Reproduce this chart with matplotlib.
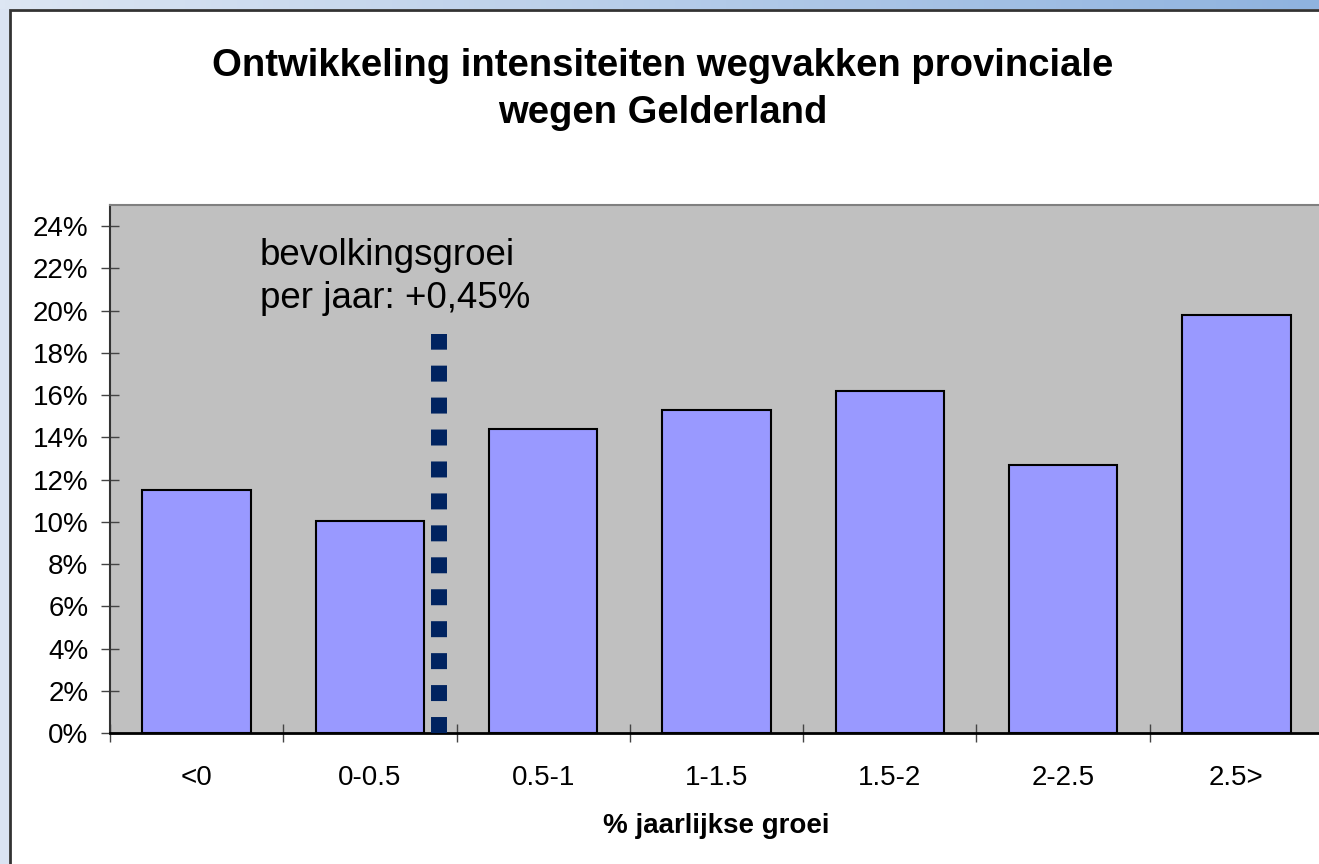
import matplotlib
matplotlib.use('Agg')
import matplotlib.pyplot as plt
import numpy as np
from matplotlib.patches import Rectangle
from matplotlib.colors import LinearSegmentedColormap

plt.rcParams['font.family'] = ['Liberation Sans', 'DejaVu Sans']

# data
categorieen = ['<0', '0-0.5', '0.5-1', '1-1.5', '1.5-2', '2-2.5', '2.5>']
aandeel = [0.115, 0.1005, 0.144, 0.153, 0.162, 0.127, 0.198]
yticks = np.arange(0, 0.25, 0.02)
bevolkingsgroei = 0.45      # % per jaar
lijn_top = 0.189

W, H = 1319, 864
fig = plt.figure(figsize=(W/100, H/100), dpi=100)
fig.patch.set_facecolor('white')

# screenshot frame: blue strips top and left
fig.patches.append(Rectangle((0, 0), 9/W, 1, transform=fig.transFigure,
                             facecolor='#dae3f2', edgecolor='none', zorder=-3))
fig.patches.append(Rectangle((9.5/W, -0.1), 1.2, 1-9.5/H+0.1, transform=fig.transFigure,
                             facecolor='white', edgecolor='#333333', linewidth=2, zorder=-2))
strip = fig.add_axes([0, 1-9/H, 1, 9/H], zorder=-1)
grad = np.linspace(0, 1, 256).reshape(1, -1)
cm = LinearSegmentedColormap.from_list('g', ['#dde6f3', '#8fb3df'])
strip.imshow(grad, aspect='auto', cmap=cm)
strip.axis('off')

ax = fig.add_axes([110/W, 1-733/H, (1323-110)/W, (733-205)/H])
ax.set_facecolor('#c0c0c0')
x = np.arange(len(categorieen))
ax.bar(x, aandeel, width=0.625, color='#9999ff', edgecolor='black', linewidth=1.5, zorder=2)

# bevolkingsgroei line: position within the 0-0.5 class
lx = 0.5 + bevolkingsgroei / 0.5
ax.plot([lx, lx], [0, lijn_top], color='#002360', linewidth=11.5,
        linestyle=(0, (1, 1)), dash_capstyle='butt', zorder=3, clip_on=False)
ax.text(0.365, 0.2345, 'bevolkingsgroei\nper jaar: +0,45%', fontsize=26.5,
        ha='left', va='top', linespacing=1.3, zorder=4)

ax.set_xlim(-0.5, len(categorieen) - 0.5)
ax.set_ylim(0, 0.25)
ax.set_yticks(yticks)
ax.set_yticklabels(['%d%%' % round(v*100) for v in yticks], fontsize=20)
ax.set_xticks(np.arange(len(categorieen)+1) - 0.5)
ax.set_xticklabels([])
ax.set_xticks(x, minor=True)
ax.set_xticklabels(categorieen, minor=True, fontsize=20)
ax.tick_params(axis='x', which='major', direction='inout', length=13, width=1, color='#444444')
ax.tick_params(axis='x', which='minor', length=0, pad=23)
ax.tick_params(axis='y', direction='inout', length=13, width=1, color='#444444', pad=9)
ax.set_xlabel('% jaarlijkse groei', fontsize=20, fontweight='bold', labelpad=16)

for s in ['top', 'right']:
    ax.spines[s].set_color('#808080')
    ax.spines[s].set_linewidth(1.5)
ax.spines['left'].set_color('#333333')
ax.spines['left'].set_linewidth(1.5)
ax.spines['bottom'].set_color('black')
ax.spines['bottom'].set_linewidth(2)

fig.text(663/W, 1-48/H, 'Ontwikkeling intensiteiten wegvakken provinciale\nwegen Gelderland',
         ha='center', va='top', fontsize=27.5, fontweight='bold', linespacing=1.39)

fig.savefig('out.png', dpi=100)
